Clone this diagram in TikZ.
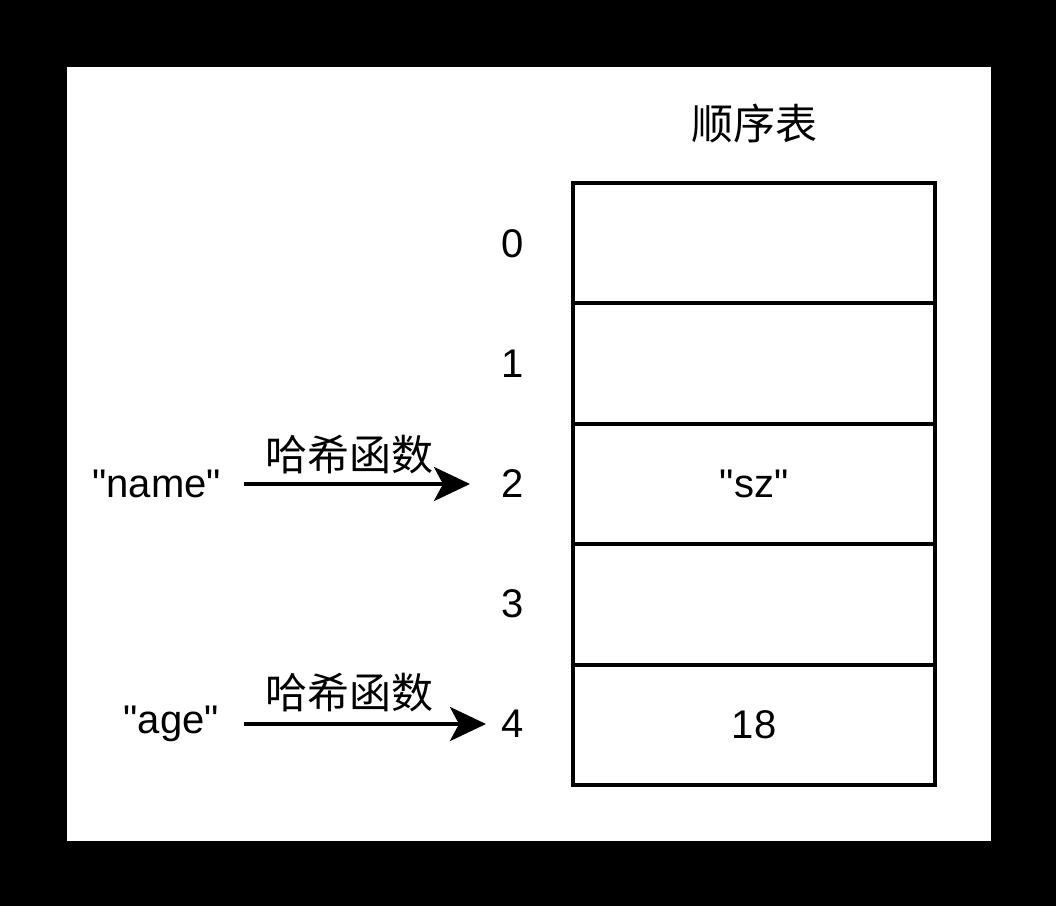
\documentclass[tikz,border=0pt]{standalone}
\usepackage{fontspec}
\setmainfont{Liberation Sans}
\newfontfamily\lat{Liberation Sans}
\newfontfamily\cjk{Noto Sans CJK SC}
\usetikzlibrary{arrows.meta}
\begin{document}
\begin{tikzpicture}[x=1pt,y=-1pt,
  cell/.style={draw=black,line width=4pt,minimum width=362pt,minimum height=120.4pt,inner sep=0pt,font=\lat\fontsize{40}{42}\selectfont},
  lbl/.style={inner sep=0pt,font=\lat\fontsize{40}{42}\selectfont},
  cn/.style={inner sep=0pt,font=\cjk\fontsize{42}{44}\selectfont},
  arr/.style={line width=4pt,-{Stealth[length=36pt,width=34pt,inset=9pt]}}]
\fill[black] (0,0) rectangle (1056,906);
\useasboundingbox (0,0) rectangle (1056,906);
\fill[white] (67,67) rectangle (991,841);
\node[cn] (title) at (754,124) {顺序表};
\foreach \i in {0,...,4}{
  \node[cell] (c\i) at (754,{243.2+120.4*\i}) {};
  \node[lbl] (n\i) at (513,{244+120*\i}) {\i};
}
\node[lbl] at (c2) {"sz"};
\node[lbl] at (c4) {18};
\node[lbl,anchor=east] (name) at (221,484) {"name"};
\node[lbl,anchor=east] (age) at (219,724) {"age"};
\coordinate (s1) at (244,484);
\coordinate (e1) at (470,484);
\coordinate (s2) at (244,724);
\coordinate (e2) at (486,724);
\draw[arr] (s1) -- (e1);
\draw[arr] (s2) -- (e2);
\node[cn] (h1) at (349,455) {哈希函数};
\node[cn] (h2) at (349,693) {哈希函数};
\end{tikzpicture}
\end{document}
